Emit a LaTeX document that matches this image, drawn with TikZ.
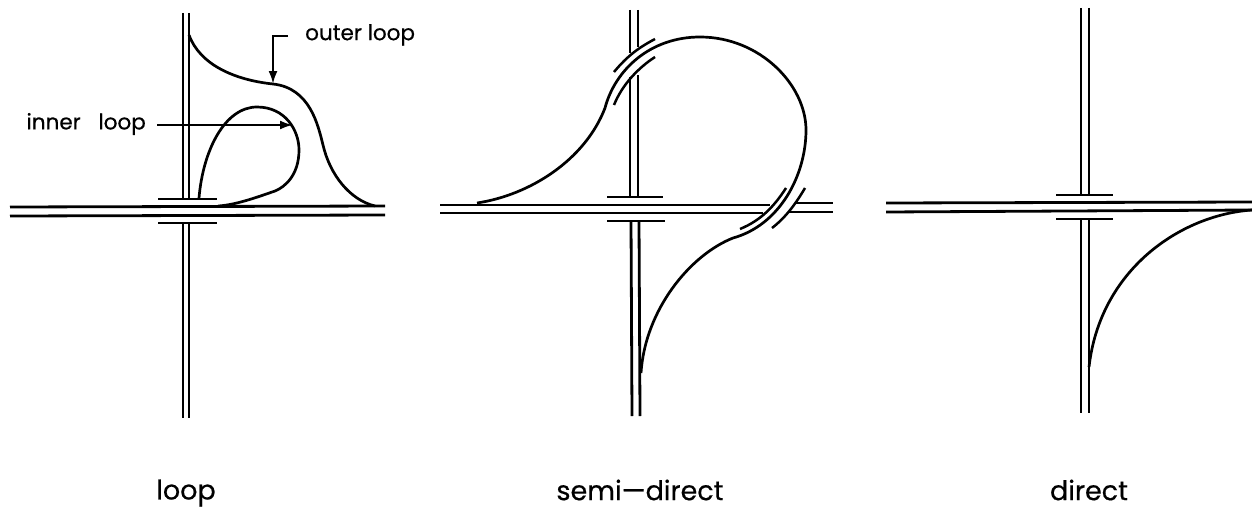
\documentclass[tikz,border=0pt]{standalone}
\usepackage{fontspec}
\setmainfont[FakeBold=0.5]{Poppins}
\usetikzlibrary{arrows.meta}
\begin{document}
\begin{tikzpicture}[
  x=1pt, y=-1pt, font=\fontsize{27}{31}\selectfont,
  road/.style   ={line width=2.8pt},
  ramp/.style   ={line width=2.7pt, line join=round},
  deck/.style   ={line width=2.5pt},
  pointer/.style={line width=2.3pt, -{Latex[length=13pt,width=9pt]}},
  callout/.style={inner sep=0pt, font=\fontsize{21.5}{25}\selectfont},
  title/.style  ={inner sep=0pt}]
  \useasboundingbox (0,0) rectangle (1252,511);
  % loop
  \draw[road] (183,13) -- (183,199) (189,13) -- (189,199);
  \draw[road] (183,223) -- (183,418) (189,223) -- (189,418);
  \draw[road] (10,207) -- (385,206) (10,216) -- (385,215);
  \draw[deck] (158,199) -- (217,199) (158,223) -- (217,223);
  \draw[ramp] (189,35) .. controls (200,65) and (235,80) .. (273,84)
    .. controls (310,88) and (318,125) .. (323,145)
    .. controls (330,175) and (350,200) .. (375,206);
  \draw[ramp] (199,198) .. controls (203,150) and (225,107) .. (257,107)
    .. controls (285,107) and (299,130) .. (299,150)
    .. controls (299,175) and (285,187) .. (275,191)
    .. controls (255,198) and (235,205) .. (218,206);
  \node[callout, anchor=west] (outer) at (305,35) {outer loop};
  \node[callout, anchor=east] (inner) at (146,124) {inner\hspace{12pt} loop};
  \coordinate (outerbend) at (273,36);
  \coordinate (outertip) at (273,84);
  \coordinate (innertip) at (293,125);
  \draw[pointer] (288,36) -- (outerbend) -- (outertip);
  \draw[pointer] (157,125) -- (innertip);
  % semi-direct
  \draw[road] (630,10) -- (630,53) (638,10) -- (638,47);
  \draw[road] (630,77) -- (630,197) (638,75) -- (638,197);
  \draw[road] (631,221) -- (632,416) (639,221) -- (640,416);
  \draw[road] (440,205) -- (770,205) (795,203) -- (833,203);
  \draw[road] (440,213) -- (763,213) (788,212) -- (833,212);
  \draw[deck] (607,197) -- (663,197) (607,221) -- (665,221);
  \draw[ramp] (477,203) .. controls (530,195) and (585,160) .. (605,108)
    .. controls (615,70) and (650,37) .. (700,37)
    .. controls (760,37) and (806,85) .. (806,130)
    .. controls (806,175) and (780,225) .. (733,238)
    .. controls (690,255) and (645,310) .. (641,373);
  \draw[deck] (614,72) .. controls (628,55) and (640,47) .. (655,39);
  \draw[deck] (614,105) .. controls (622,85) and (638,68) .. (655,57);
  \draw[deck] (805,188) .. controls (795,205) and (785,218) .. (772,228);
  \draw[deck] (786,188) .. controls (775,205) and (762,220) .. (740,229);
  % direct
  \draw[road] (1081,8) -- (1081,195) (1089,8) -- (1089,195);
  \draw[road] (1081,219) -- (1081,413) (1089,219) -- (1089,413);
  \draw[road] (886,203) -- (1252,202) (886,212) -- (1252,210);
  \draw[deck] (1056,195) -- (1113,195) (1056,219) -- (1113,219);
  \draw[ramp] (1252,210) .. controls (1180,215) and (1100,270) .. (1089,367);
  \node[title] (loop) at (186,493) {loop};
  \node[title] (semi) at (640,490) {semi---direct};
  \node[title] (direct) at (1089,490) {direct};
\end{tikzpicture}
\end{document}
